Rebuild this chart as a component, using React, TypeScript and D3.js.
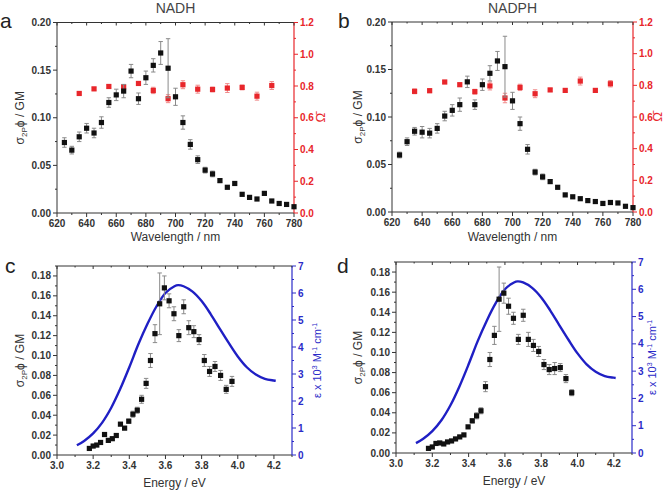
import React from "react";
import * as d3 from "d3";

// ---------- DATA ----------
const wavelengths = [625, 630, 635, 640, 645, 650, 655, 660, 665, 670, 675, 680, 685, 690, 695, 700, 705, 710, 715, 720, 725, 730, 735, 740, 745, 750, 755, 760, 765, 770, 775, 780];
// two-photon energies (eV) for the same wavelengths
const energies = [3.968, 3.936, 3.905, 3.874, 3.844, 3.815, 3.786, 3.757, 3.729, 3.701, 3.674, 3.647, 3.620, 3.594, 3.568, 3.542, 3.517, 3.493, 3.468, 3.444, 3.420, 3.397, 3.374, 3.351, 3.328, 3.306, 3.284, 3.263, 3.241, 3.220, 3.200, 3.179];

const nadhSigma = [0.074, 0.066, 0.080, 0.089, 0.084, 0.095, 0.116, 0.124, 0.128, 0.149, 0.120, 0.142, 0.155, 0.168, 0.152, 0.122, 0.095, 0.072, 0.056, 0.045, 0.041, 0.034, 0.027, 0.031, 0.0196, 0.0164, 0.0147, 0.0206, 0.0126, 0.010, 0.009, 0.0066];
const nadhSigmaErr = [0.005, 0.004, 0.005, 0.005, 0.005, 0.006, 0.005, 0.006, 0.007, 0.007, 0.006, 0.007, 0.007, 0.012, 0.031, 0.009, 0.007, 0.005, 0.004, 0.003, 0.003, 0.002, 0.001, 0.001, 0.001, 0.001, 0.001, 0.001, 0.001, 0.001, 0.001, 0.001];

const nadphSigma = [0.060, 0.074, 0.085, 0.084, 0.083, 0.088, 0.101, 0.107, 0.113, 0.137, 0.113, 0.134, 0.146, 0.159, 0.153, 0.117, 0.093, 0.066, 0.042, 0.037, 0.032, 0.026, 0.018, 0.016, 0.014, 0.012, 0.011, 0.009, 0.010, 0.0095, 0.006, 0.0046];
const nadphSigmaErr = [0.003, 0.004, 0.004, 0.006, 0.005, 0.005, 0.005, 0.006, 0.007, 0.006, 0.005, 0.006, 0.008, 0.010, 0.032, 0.009, 0.007, 0.005, 0.003, 0.003, 0.002, 0.001, 0.001, 0.001, 0.001, 0.001, 0.001, 0.001, 0.001, 0.001, 0.001, 0.001];

const omegaWavelengths = [635, 645, 655, 665, 675, 685, 695, 705, 715, 725, 735, 745, 755, 765];
const nadhOmega = [0.753, 0.782, 0.797, 0.795, 0.816, 0.772, 0.720, 0.808, 0.780, 0.778, 0.787, 0.791, 0.736, 0.803];
const nadhOmegaErr = [0.008, 0.008, 0.01, 0.012, 0.01, 0.02, 0.025, 0.025, 0.025, 0.015, 0.028, 0.015, 0.025, 0.025];
const nadphOmega = [0.762, 0.766, 0.821, 0.804, 0.760, 0.796, 0.720, 0.787, 0.747, 0.771, 0.768, 0.827, 0.768, 0.810];
const nadphOmegaErr = [0.015, 0.012, 0.01, 0.01, 0.015, 0.025, 0.03, 0.02, 0.025, 0.01, 0.01, 0.025, 0.01, 0.02];

const absEnergy = [3.11, 3.15, 3.20, 3.25, 3.30, 3.35, 3.40, 3.45, 3.50, 3.55, 3.60, 3.65, 3.67, 3.70, 3.75, 3.80, 3.85, 3.90, 3.95, 4.00, 4.05, 4.10, 4.15, 4.20, 4.21];
const nadhEpsilon = [0.36, 0.52, 0.80, 1.20, 1.75, 2.45, 3.25, 4.10, 4.85, 5.50, 6.00, 6.25, 6.29, 6.25, 6.05, 5.70, 5.22, 4.68, 4.15, 3.65, 3.25, 2.98, 2.82, 2.76, 2.75];
const nadphEpsilon = [0.36, 0.52, 0.80, 1.20, 1.75, 2.45, 3.25, 4.10, 4.85, 5.50, 6.00, 6.25, 6.29, 6.25, 6.05, 5.70, 5.22, 4.68, 4.15, 3.65, 3.25, 2.98, 2.82, 2.76, 2.75];

const wlTicks = [620, 640, 660, 680, 700, 720, 740, 760, 780];
const sigmaTicksTop = [0, 0.05, 0.1, 0.15, 0.2];
const omegaTicks = [0, 0.2, 0.4, 0.6, 0.8, 1.0, 1.2];
const energyTicks = [3.0, 3.2, 3.4, 3.6, 3.8, 4.0, 4.2];
const sigmaTicksBottom = [0, 0.02, 0.04, 0.06, 0.08, 0.1, 0.12, 0.14, 0.16, 0.18];
const epsTicks = [0, 1, 2, 3, 4, 5, 6, 7];

// ---------- STYLE ----------
const FONT = "'Liberation Sans', Arial, sans-serif";
const AXIS = "#333";
const RED = "#e8262b";
const RED_ERR = "#f08a8a";
const BLUE = "#2b2bc8";
const CURVE = "#1f1fc4";
const BLACK = "#111";
const GRAY_ERR = "#8a8a8a";

function minorTicks(major: number[]): number[] {
  const out: number[] = [];
  for (let i = 0; i < major.length - 1; i++) out.push((major[i] + major[i + 1]) / 2);
  return out;
}

function Points({ xs, ys, errs, x, y, color, errColor }: any) {
  return (
    <g>
      {xs.map((xv: number, i: number) => {
        const cx = x(xv);
        const cy = y(ys[i]);
        const e = errs[i];
        const y1 = y(ys[i] + e);
        const y2 = y(ys[i] - e);
        return (
          <g key={i}>
            {e > 0.0015 ? (
              <g stroke={errColor} strokeWidth={1}>
                <line x1={cx} x2={cx} y1={y1} y2={y2} />
                <line x1={cx - 2.2} x2={cx + 2.2} y1={y1} y2={y1} />
                <line x1={cx - 2.2} x2={cx + 2.2} y1={y2} y2={y2} />
              </g>
            ) : null}
            <rect x={cx - 2.6} y={cy - 2.6} width={5.2} height={5.2} fill={color} />
          </g>
        );
      })}
    </g>
  );
}

function Panel(props: any) {
  const { box, xDomain, xTicks, xFmt, yDomain, yTicks, yFmt, rDomain, rTicks, rFmt, rColor, title, letter, letterPos, xTitle, xTitleY, leftTitleX, rightTitle, rightTitleX, children } = props;
  const x = d3.scaleLinear().domain(xDomain).range([box.l, box.r]);
  const y = d3.scaleLinear().domain(yDomain).range([box.b, box.t]);
  const r = d3.scaleLinear().domain(rDomain).range([box.b, box.t]);
  const xMinor = minorTicks(xTicks).concat(xTicks[xTicks.length - 1] + (xTicks[1] - xTicks[0]) / 2).filter((v: number) => v <= xDomain[1] + 1e-9);
  const yMinor = minorTicks(yTicks);
  if (yTicks[yTicks.length - 1] + (yTicks[1] - yTicks[0]) / 2 <= yDomain[1] + 1e-9) yMinor.push(yTicks[yTicks.length - 1] + (yTicks[1] - yTicks[0]) / 2);
  const rMinor = minorTicks(rTicks);
  const cy = (box.t + box.b) / 2;
  const cx = (box.l + box.r) / 2;
  return (
    <g fontFamily={FONT}>
      {title ? (
        <text x={cx} y={13} textAnchor="middle" fontSize={14} fill="#444">{title}</text>
      ) : null}
      <text x={letterPos[0]} y={letterPos[1]} fontSize={21} fill="#222">{letter}</text>
      {/* frame */}
      <line x1={box.l} x2={box.r} y1={box.t} y2={box.t} stroke={AXIS} strokeWidth={1} />
      <line x1={box.l} x2={box.r} y1={box.b} y2={box.b} stroke={AXIS} strokeWidth={1} />
      <line x1={box.l} x2={box.l} y1={box.t} y2={box.b} stroke={AXIS} strokeWidth={1} />
      <line x1={box.r} x2={box.r} y1={box.t} y2={box.b} stroke={rColor} strokeWidth={1.2} />
      {/* bottom & top ticks */}
      {xTicks.map((v: number) => (
        <g key={"xt" + v}>
          <line x1={x(v)} x2={x(v)} y1={box.b} y2={box.b + 4} stroke={AXIS} />
          <line x1={x(v)} x2={x(v)} y1={box.t} y2={box.t + 3} stroke={AXIS} />
          <text x={x(v)} y={box.b + 14} textAnchor="middle" fontSize={10} fontWeight="bold" fill="#333">{xFmt(v)}</text>
        </g>
      ))}
      {xMinor.map((v: number) => (
        <g key={"xm" + v}>
          <line x1={x(v)} x2={x(v)} y1={box.b} y2={box.b + 2} stroke={AXIS} />
          <line x1={x(v)} x2={x(v)} y1={box.t} y2={box.t + 1.5} stroke={AXIS} />
        </g>
      ))}
      {/* left ticks */}
      {yTicks.map((v: number) => (
        <g key={"yt" + v}>
          <line x1={box.l - 4} x2={box.l} y1={y(v)} y2={y(v)} stroke={AXIS} />
          <text x={box.l - 6} y={y(v)} dy="0.35em" textAnchor="end" fontSize={10} fontWeight="bold" fill="#333">{yFmt(v)}</text>
        </g>
      ))}
      {yMinor.map((v: number) => (
        <line key={"ym" + v} x1={box.l - 2} x2={box.l} y1={y(v)} y2={y(v)} stroke={AXIS} />
      ))}
      {/* right ticks */}
      {rTicks.map((v: number) => (
        <g key={"rt" + v}>
          <line x1={box.r} x2={box.r + 4} y1={r(v)} y2={r(v)} stroke={rColor} />
          <text x={box.r + 6} y={r(v)} dy="0.35em" textAnchor="start" fontSize={10} fontWeight="bold" fill={rColor}>{rFmt(v)}</text>
        </g>
      ))}
      {rMinor.map((v: number) => (
        <line key={"rm" + v} x1={box.r} x2={box.r + 2} y1={r(v)} y2={r(v)} stroke={rColor} />
      ))}
      {/* titles */}
      <text x={cx} y={xTitleY} textAnchor="middle" fontSize={12} fill="#333">{xTitle}</text>
      <text transform={`translate(${leftTitleX},${cy}) rotate(-90)`} textAnchor="middle" fontSize={12} fill="#333">
        σ<tspan fontSize={8} dy={3}>2P</tspan><tspan dy={-3}>ϕ / GM</tspan>
      </text>
      <g transform={`translate(${rightTitleX},${cy}) rotate(-90)`}>{rightTitle}</g>
      {children({ x, y, r })}
    </g>
  );
}

const fmt2 = (v: number) => v.toFixed(2);
const fmt1 = (v: number) => v.toFixed(1);
const fmt0 = (v: number) => v.toFixed(0);

function OmegaTitle() {
  return (
    <text textAnchor="middle" fontSize={13} fill={RED} dy="0.35em">Ω̄</text>
  );
}
function EpsTitle() {
  return (
    <text textAnchor="middle" fontSize={11} fill={BLUE}>
      ε x 10<tspan fontSize={7} dy={-4}>3</tspan><tspan dy={4}> M</tspan><tspan fontSize={7} dy={-4}>-1</tspan><tspan dy={4}> cm</tspan><tspan fontSize={7} dy={-4}>-1</tspan>
    </text>
  );
}

function TopPanel({ box, sigma, sigmaErr, omega, omegaErr, title, letter, letterPos, leftTitleX, rightTitleX }: any) {
  return (
    <Panel box={box} xDomain={[620, 780]} xTicks={wlTicks} xFmt={fmt0} yDomain={[0, 0.2]} yTicks={sigmaTicksTop} yFmt={fmt2}
      rDomain={[0, 1.2]} rTicks={omegaTicks} rFmt={fmt1} rColor={RED} title={title} letter={letter} letterPos={letterPos}
      xTitle="Wavelength / nm" xTitleY={241} leftTitleX={leftTitleX} rightTitle={<OmegaTitle />} rightTitleX={rightTitleX}>
      {({ x, y, r }: any) => (
        <g>
          <Points xs={omegaWavelengths} ys={omega} errs={omegaErr} x={x} y={r} color={RED} errColor={RED_ERR} />
          <Points xs={wavelengths} ys={sigma} errs={sigmaErr} x={x} y={y} color={BLACK} errColor={GRAY_ERR} />
        </g>
      )}
    </Panel>
  );
}

function BottomPanel({ box, sigma, sigmaErr, eps, letter, letterPos, leftTitleX, rightTitleX }: any) {
  return (
    <Panel box={box} xDomain={[3.0, 4.3]} xTicks={energyTicks} xFmt={fmt1} yDomain={[0, 0.19]} yTicks={sigmaTicksBottom} yFmt={fmt2}
      rDomain={[0, 7]} rTicks={epsTicks} rFmt={fmt0} rColor={BLUE} title={null} letter={letter} letterPos={letterPos}
      xTitle="Energy / eV" xTitleY={box.b + 32} leftTitleX={leftTitleX} rightTitle={<EpsTitle />} rightTitleX={rightTitleX}>
      {({ x, y, r }: any) => {
        const line = d3.line<number>().x((d, i) => x(absEnergy[i])).y((d) => r(d)).curve(d3.curveCatmullRom);
        return (
          <g>
            <path d={line(eps) || ""} fill="none" stroke={CURVE} strokeWidth={2.4} />
            <Points xs={energies} ys={sigma} errs={sigmaErr} x={x} y={y} color={BLACK} errColor={GRAY_ERR} />
          </g>
        );
      }}
    </Panel>
  );
}

export default function App() {
  return (
    <svg width={666} height={490} style={{ display: "block", position: "absolute", left: 0, top: 0, background: "#fff" }}>
      <rect width={666} height={490} fill="#fff" />
      <TopPanel box={{ l: 57, r: 294, t: 22.5, b: 213 }} sigma={nadhSigma} sigmaErr={nadhSigmaErr} omega={nadhOmega} omegaErr={nadhOmegaErr}
        title="NADH" letter="a" letterPos={[0, 28]} leftTitleX={24} rightTitleX={320} />
      <TopPanel box={{ l: 392, r: 633, t: 22, b: 212 }} sigma={nadphSigma} sigmaErr={nadphSigmaErr} omega={nadphOmega} omegaErr={nadphOmegaErr}
        title="NADPH" letter="b" letterPos={[338, 28]} leftTitleX={362} rightTitleX={657} />
      <BottomPanel box={{ l: 57, r: 292, t: 266, b: 455 }} sigma={nadhSigma} sigmaErr={nadhSigmaErr} eps={nadhEpsilon}
        letter="c" letterPos={[5, 273]} leftTitleX={24} rightTitleX={321} />
      <BottomPanel box={{ l: 396, r: 632, t: 262, b: 453 }} sigma={nadphSigma} sigmaErr={nadphSigmaErr} eps={nadphEpsilon}
        letter="d" letterPos={[337, 273]} leftTitleX={362} rightTitleX={656} />
    </svg>
  );
}
